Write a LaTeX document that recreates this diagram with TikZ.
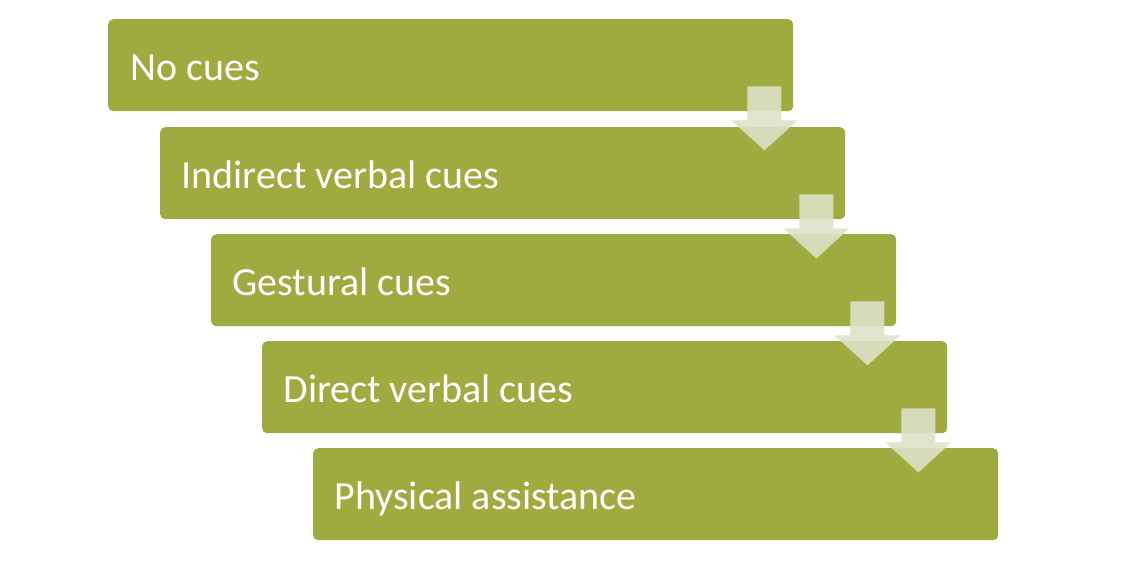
\documentclass[tikz,border=0pt]{standalone}
\usepackage{fontspec}
\setmainfont{Carlito}
\definecolor{olive}{HTML}{9FAB3F}
\definecolor{arr}{HTML}{DDE2C8}
\begin{document}
\begin{tikzpicture}[x=1pt,y=-1pt,
  stepbox/.style={fill=olive,rounded corners=5pt,minimum width=685pt,minimum height=92pt,inner sep=0pt,anchor=north west},
  lbl/.style={text=white,font=\fontsize{40}{44}\selectfont,anchor=base west}]
\useasboundingbox (0,0) rectangle (1138,568);
\node[stepbox] (b1) at (108,19) {};
\node[stepbox] (b2) at (160,127) {};
\node[stepbox] (b3) at (211,234) {};
\node[stepbox] (b4) at (262,341) {};
\node[stepbox] (b5) at (313,448) {};
\node[lbl] (t1) at (127,80) {No cues};
\node[lbl] (t2) at (178,188) {Indirect verbal cues};
\node[lbl] (t3) at (229,295) {Gestural cues};
\node[lbl] (t4) at (280,402) {Direct verbal cues};
\node[lbl] (t5) at (331,509) {Physical assistance};
\foreach \i in {1,2,3,4}{
  \fill[arr,opacity=0.9] ([shift={(-46,-25)}]b\i.south east) -- ++(34,0) -- ++(0,34) -- ++(16,0)
    -- ++(-33,30) -- ++(-33,-30) -- ++(16,0) -- cycle;
}
\end{tikzpicture}
\end{document}
